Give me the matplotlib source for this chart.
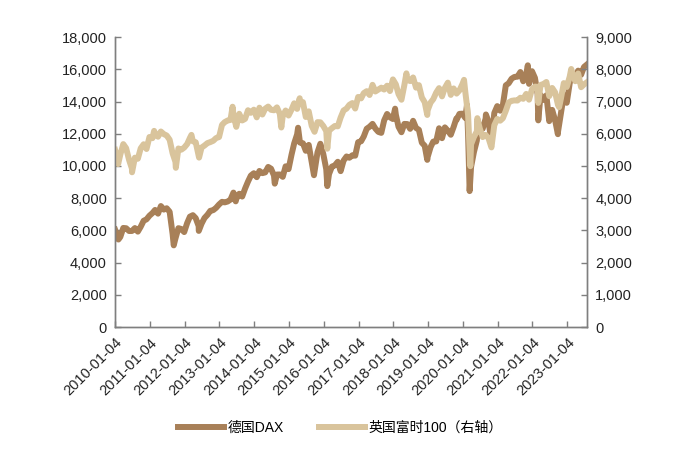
import numpy as np
import pandas as pd
import matplotlib
matplotlib.use("Agg")
import matplotlib.pyplot as plt
import matplotlib.dates as mdates
from matplotlib.ticker import FuncFormatter, MultipleLocator

plt.rcParams['font.family'] = ['Liberation Sans', 'Noto Sans CJK SC']

# month-end closes, 2010-01 .. 2023-07
dax_monthly = [
    5608, 5598, 6154, 6136, 5964, 5966, 6148, 5925, 6229, 6601, 6688, 6914,
    7077, 7272, 7041, 7514, 7294, 7376, 7159, 5785, 5502, 6141, 6089, 5898,
    6458, 6856, 6947, 6761, 6264, 6416, 6772, 6970, 7216, 7260, 7405, 7612,
    7776, 7741, 7795, 7914, 8349, 7959, 8276, 8103, 8594, 9033, 9405, 9552,
    9306, 9692, 9556, 9603, 9943, 9833, 9407, 9470, 9474, 9327, 9980, 9806,
    10694, 11402, 11966, 11454, 11413, 10945, 11309, 10259, 9660, 10850, 11382, 10743,
    9798, 9495, 9966, 10039, 10263, 9680, 10337, 10592, 10511, 10665, 10640, 11481,
    11535, 11834, 12313, 12438, 12615, 12325, 12118, 12056, 12829, 13230, 13024, 12918,
    13189, 12436, 12097, 12612, 12605, 12306, 12806, 12364, 12247, 11447, 11257, 10559,
    11173, 11516, 11526, 12344, 11727, 12399, 12189, 11939, 12428, 12867, 13236, 13249,
    12981, 11890, 9936, 10862, 11587, 12311, 12313, 12945, 12761, 11556, 13291, 13719,
    13433, 13786, 15008, 15136, 15421, 15531, 15544, 15835, 15261, 15688, 15100, 15885,
    15471, 14461, 14415, 14098, 14388, 12784, 13484, 12835, 12114, 13254, 14397, 13924,
    15128, 15365, 15629, 15922, 15664, 16148, 16300,
]
ftse_monthly = [
    5189, 5355, 5680, 5553, 5188, 4917, 5258, 5225, 5549, 5675, 5528, 5900,
    5863, 5994, 5909, 6070, 5990, 5946, 5815, 5395, 5128, 5544, 5505, 5572,
    5682, 5872, 5768, 5738, 5321, 5571, 5635, 5711, 5742, 5783, 5867, 5898,
    6277, 6361, 6412, 6430, 6583, 6215, 6621, 6413, 6462, 6731, 6651, 6749,
    6510, 6810, 6598, 6780, 6845, 6744, 6730, 6820, 6623, 6546, 6723, 6566,
    6749, 6947, 6773, 6961, 6984, 6521, 6696, 6248, 6062, 6361, 6356, 6242,
    6084, 6097, 6175, 6242, 6231, 6504, 6724, 6782, 6899, 6954, 6784, 7143,
    7099, 7263, 7323, 7204, 7520, 7313, 7372, 7431, 7373, 7493, 7327, 7688,
    7534, 7232, 7057, 7509, 7678, 7637, 7749, 7432, 7510, 7128, 6980, 6728,
    6969, 7075, 7279, 7418, 7162, 7426, 7587, 7207, 7408, 7248, 7347, 7542,
    7286, 6581, 5672, 5901, 6077, 6170, 5898, 5964, 5866, 5577, 6266, 6461,
    6407, 6483, 6714, 6970, 7023, 7037, 7032, 7120, 7086, 7238, 7059, 7385,
    7464, 7458, 7516, 7545, 7608, 7169, 7423, 7284, 6894, 7095, 7573, 7452,
    7772, 7876, 7632, 7871, 7446, 7532, 7600,
]

# intra-month extremes
dax_extra_dates = ['2010-01-04', '2010-02-08', '2011-09-12', '2012-06-01', '2013-06-24',
                   '2014-08-08', '2015-04-10', '2015-09-24', '2016-02-11', '2018-01-23',
                   '2018-12-27', '2019-10-28', '2020-02-17', '2020-03-16', '2020-06-08',
                   '2020-09-03', '2021-11-17', '2022-03-07', '2022-09-29', '2023-02-17']
dax_extra_vals = [6048, 5434, 5072, 5969, 7805, 8903, 12375, 9427, 8753, 13560,
                  10380, 12941, 13789, 8442, 12820, 13200, 16251, 12832, 11975, 15532]
ftse_extra_dates = ['2010-01-04', '2010-02-05', '2010-07-01', '2011-02-18', '2011-10-04',
                    '2012-03-16', '2012-06-04', '2013-05-22', '2014-10-16', '2015-04-27',
                    '2016-02-11', '2018-05-22', '2018-12-27', '2020-01-17', '2020-03-23',
                    '2020-06-05', '2020-10-30', '2022-03-07', '2022-10-12', '2023-02-16']
ftse_extra_vals = [5500, 5060, 4805, 6091, 4944, 5966, 5260, 6840, 6195, 7104,
                   5537, 7877, 6585, 7675, 4994, 6485, 5577, 6959, 6826, 8012]

month_ends = pd.date_range('2010-01-31', periods=len(dax_monthly), freq='ME')
dax = pd.concat([pd.Series(dax_monthly, index=month_ends),
                 pd.Series(dax_extra_vals, index=pd.to_datetime(dax_extra_dates))]).sort_index()
ftse = pd.concat([pd.Series(ftse_monthly, index=month_ends),
                  pd.Series(ftse_extra_vals, index=pd.to_datetime(ftse_extra_dates))]).sort_index()

tick_dates = pd.to_datetime(['%d-01-04' % y for y in range(2010, 2024)])

c_dax = '#A88058'
c_ftse = '#D9C49C'
spine_c = '#7f7f7f'

fig = plt.figure(figsize=(6.81, 4.53), dpi=100)
ax = fig.add_axes([0.169, 0.278, 0.693, 0.64])
ax2 = ax.twinx()

l1, = ax.plot(dax.index, dax.values, color=c_dax, lw=4.3, solid_joinstyle='round', label='德国DAX')
l2, = ax2.plot(ftse.index, ftse.values, color=c_ftse, lw=4.3, solid_joinstyle='round',
               label='英国富时100（右轴）')

ax.set_ylim(0, 18000)
ax2.set_ylim(0, 9000)
ax.yaxis.set_major_locator(MultipleLocator(2000))
ax2.yaxis.set_major_locator(MultipleLocator(1000))
fmt = FuncFormatter(lambda v, p: '{:,.0f}'.format(v))
ax.yaxis.set_major_formatter(fmt)
ax2.yaxis.set_major_formatter(fmt)

ax.set_xlim(pd.Timestamp('2010-01-04'), pd.Timestamp('2023-08-01'))
ax.set_xticks(tick_dates)
ax.xaxis.set_major_formatter(mdates.DateFormatter('%Y-%m-%d'))
for lab in ax.get_xticklabels():
    lab.set_rotation(45)
    lab.set_ha('right')
    lab.set_rotation_mode('anchor')

for a in (ax, ax2):
    a.spines['top'].set_visible(False)
    for s in ('left', 'right', 'bottom'):
        a.spines[s].set_color(spine_c)
        a.spines[s].set_linewidth(1.0)
    a.tick_params(direction='in', length=4, width=1, color=spine_c,
                  labelsize=10.5, labelcolor='#222222', pad=6)

fig.legend(handles=[l1, l2], loc='center', bbox_to_anchor=(0.5, 0.055), ncol=2,
           frameon=False, fontsize=10, handlelength=3.3, columnspacing=2.5,
           handletextpad=0.3)

fig.savefig('out.png', dpi=100)
